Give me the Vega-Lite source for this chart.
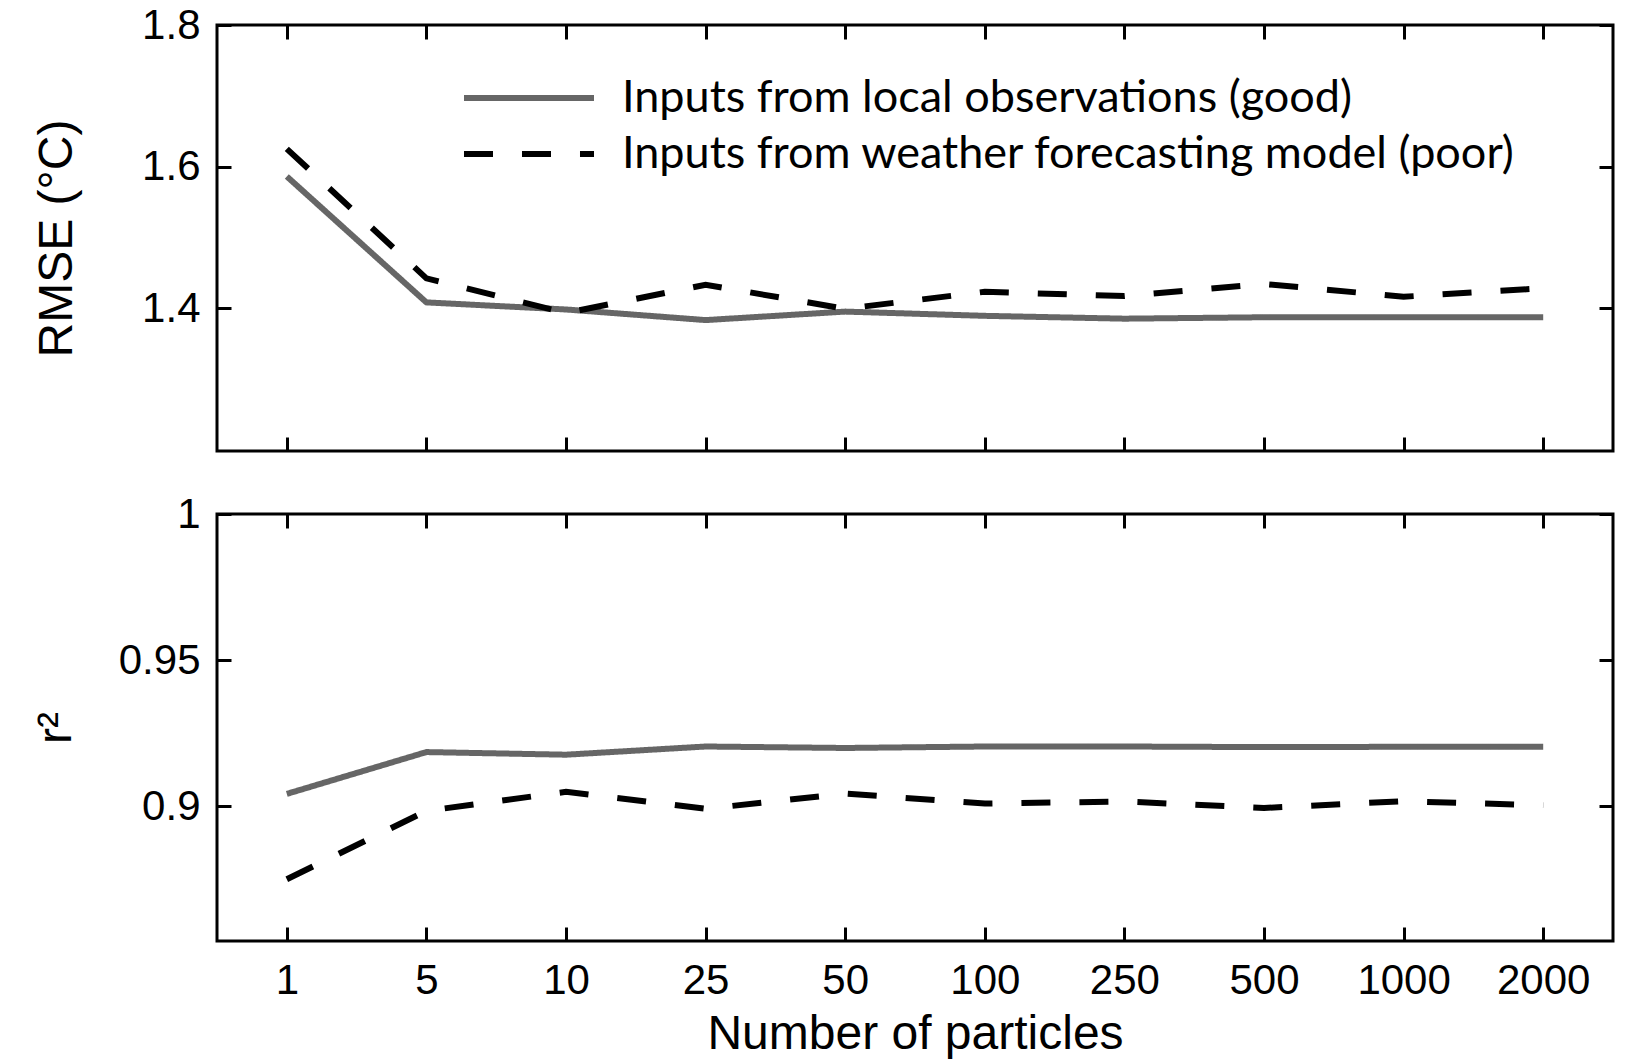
{
  "$schema": "https://vega.github.io/schema/vega-lite/v6.json",
  "background": "white",
  "padding": {"left": 30, "top": 2, "right": 5, "bottom": 2},
  "config": {
    "font": "Liberation Sans",
    "view": {"stroke": "black", "strokeWidth": 3},
    "axis": {
      "domain": false,
      "grid": false,
      "ticks": true,
      "tickSize": -14,
      "tickWidth": 3,
      "tickColor": "black",
      "labelFont": "Liberation Sans",
      "labelFontSize": 42,
      "labelColor": "black",
      "titleFont": "Liberation Sans",
      "titleFontSize": 48,
      "titleFontWeight": "normal",
      "titleColor": "black"
    },
    "legend": {
      "orient": "none",
      "legendX": 287,
      "legendY": 48,
      "padding": 0,
      "symbolType": "M-3,0H3",
      "symbolSize": 1878,
      "symbolStrokeWidth": 6,
      "labelFont": "Lato",
      "labelFontSize": 45,
      "labelColor": "black",
      "labelOffset": 68,
      "labelLimit": 0,
      "rowPadding": 8
    }
  },
  "datasets": {
    "rmse": [
      {"n": "1", "input": "good", "v": 1.586},
      {"n": "5", "input": "good", "v": 1.408},
      {"n": "10", "input": "good", "v": 1.398},
      {"n": "25", "input": "good", "v": 1.383},
      {"n": "50", "input": "good", "v": 1.395},
      {"n": "100", "input": "good", "v": 1.389},
      {"n": "250", "input": "good", "v": 1.385},
      {"n": "500", "input": "good", "v": 1.387},
      {"n": "1000", "input": "good", "v": 1.387},
      {"n": "2000", "input": "good", "v": 1.387},
      {"n": "1", "input": "poor", "v": 1.625},
      {"n": "5", "input": "poor", "v": 1.442},
      {"n": "10", "input": "poor", "v": 1.393},
      {"n": "25", "input": "poor", "v": 1.433},
      {"n": "50", "input": "poor", "v": 1.399},
      {"n": "100", "input": "poor", "v": 1.423},
      {"n": "250", "input": "poor", "v": 1.417},
      {"n": "500", "input": "poor", "v": 1.434},
      {"n": "1000", "input": "poor", "v": 1.416},
      {"n": "2000", "input": "poor", "v": 1.428}
    ],
    "r2": [
      {"n": "1", "input": "good", "v": 0.9043},
      {"n": "5", "input": "good", "v": 0.9186},
      {"n": "10", "input": "good", "v": 0.9177},
      {"n": "25", "input": "good", "v": 0.9205},
      {"n": "50", "input": "good", "v": 0.92},
      {"n": "100", "input": "good", "v": 0.9205},
      {"n": "250", "input": "good", "v": 0.9205},
      {"n": "500", "input": "good", "v": 0.9203},
      {"n": "1000", "input": "good", "v": 0.9204},
      {"n": "2000", "input": "good", "v": 0.9204},
      {"n": "1", "input": "poor", "v": 0.8751},
      {"n": "5", "input": "poor", "v": 0.8985},
      {"n": "10", "input": "poor", "v": 0.905},
      {"n": "25", "input": "poor", "v": 0.8992},
      {"n": "50", "input": "poor", "v": 0.9044},
      {"n": "100", "input": "poor", "v": 0.901},
      {"n": "250", "input": "poor", "v": 0.9017},
      {"n": "500", "input": "poor", "v": 0.8995},
      {"n": "1000", "input": "poor", "v": 0.9018},
      {"n": "2000", "input": "poor", "v": 0.9004}
    ]
  },
  "spacing": 37,
  "resolve": {
    "legend": {"color": "independent", "strokeDash": "independent"}
  },
  "vconcat": [
    {
      "width": 1396,
      "height": 426,
      "data": {"name": "rmse"},
      "layer": [
        {
          "mark": {"type": "line", "strokeWidth": 6},
          "encoding": {
            "x": {
              "field": "n", "type": "ordinal",
              "sort": ["1", "5", "10", "25", "50", "100", "250", "500", "1000", "2000"],
              "scale": {"type": "point", "padding": 0.5},
              "axis": {"orient": "bottom", "labels": false, "title": null}
            },
            "y": {
              "field": "v", "type": "quantitative",
              "scale": {"domain": [1.198, 1.8], "nice": false, "zero": false},
              "axis": {"orient": "left", "values": [1.4, 1.6, 1.8], "format": "~g", "labelPadding": 31, "title": "RMSE (°C)", "titlePadding": 60}
            },
            "color": {
              "field": "input", "type": "nominal",
              "scale": {"domain": ["good", "poor"], "range": ["#666666", "#000000"]},
              "legend": {
                "title": null,
                "labelExpr": "datum.value == 'good' ? 'Inputs from local observations (good)' : 'Inputs from weather forecasting model (poor)'",
                "encode": {"symbols": {"update": {"strokeDash": {"signal": "datum.value == 'poor' ? [26, 26] : [1, 0]"}}}}
              }
            },
            "strokeDash": {
              "field": "input", "type": "nominal",
              "scale": {"domain": ["good", "poor"], "range": [[1, 0], [29, 29]]},
              "legend": {
                "title": null,
                "labelExpr": "datum.value == 'good' ? 'Inputs from local observations (good)' : 'Inputs from weather forecasting model (poor)'",
                "encode": {"symbols": {"update": {"strokeDash": {"signal": "datum.value == 'poor' ? [26, 26] : [1, 0]"}}}}
              }
            }
          }
        },
        {
          "mark": {"type": "point", "opacity": 0},
          "encoding": {
            "x": {
              "field": "n", "type": "ordinal",
              "sort": ["1", "5", "10", "25", "50", "100", "250", "500", "1000", "2000"],
              "axis": {"orient": "top", "labels": false, "title": null}
            },
            "y": {
              "field": "v", "type": "quantitative",
              "axis": {"orient": "right", "values": [1.4, 1.6, 1.8], "labels": false, "title": null}
            }
          }
        }
      ],
      "resolve": {"axis": {"x": "independent", "y": "independent"}}
    },
    {
      "width": 1396,
      "height": 427,
      "data": {"name": "r2"},
      "layer": [
        {
          "mark": {"type": "line", "strokeWidth": 6},
          "encoding": {
            "x": {
              "field": "n", "type": "ordinal",
              "sort": ["1", "5", "10", "25", "50", "100", "250", "500", "1000", "2000"],
              "scale": {"type": "point", "padding": 0.5},
              "axis": {"orient": "bottom", "labelAngle": 0, "labelPadding": 33, "title": "Number of particles", "titlePadding": 9}
            },
            "y": {
              "field": "v", "type": "quantitative",
              "scale": {"domain": [0.854, 1], "nice": false, "zero": false},
              "axis": {"orient": "left", "values": [0.9, 0.95, 1], "format": "~g", "labelPadding": 31, "title": "r²", "titlePadding": 38}
            },
            "color": {
              "field": "input", "type": "nominal",
              "scale": {"domain": ["good", "poor"], "range": ["#666666", "#000000"]},
              "legend": null
            },
            "strokeDash": {
              "field": "input", "type": "nominal",
              "scale": {"domain": ["good", "poor"], "range": [[1, 0], [29, 29]]},
              "legend": null
            }
          }
        },
        {
          "mark": {"type": "point", "opacity": 0},
          "encoding": {
            "x": {
              "field": "n", "type": "ordinal",
              "sort": ["1", "5", "10", "25", "50", "100", "250", "500", "1000", "2000"],
              "axis": {"orient": "top", "labels": false, "title": null}
            },
            "y": {
              "field": "v", "type": "quantitative",
              "axis": {"orient": "right", "values": [0.9, 0.95, 1], "labels": false, "title": null}
            }
          }
        }
      ],
      "resolve": {"axis": {"x": "independent", "y": "independent"}}
    }
  ]
}
